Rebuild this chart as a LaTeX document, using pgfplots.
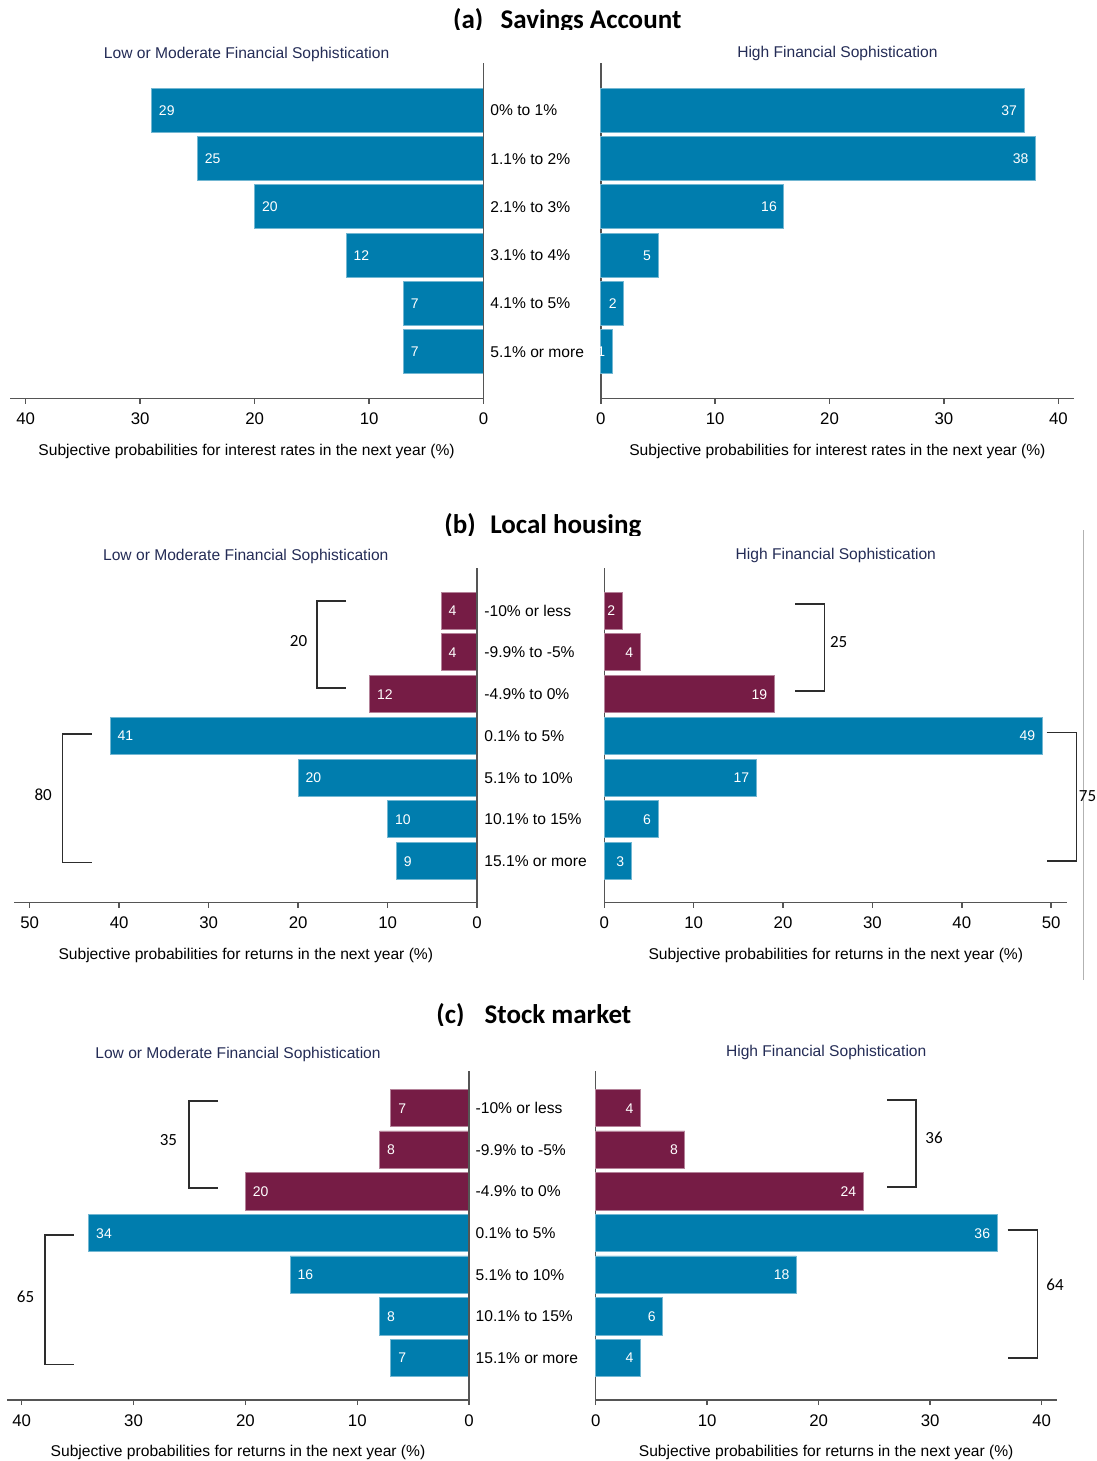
\documentclass[border=0pt]{standalone}
\usepackage{pgfplots}
\pgfplotsset{compat=1.18}
\usepackage{fontspec}
\setmainfont{Liberation Sans}
\newfontfamily\calibri{Carlito}

\definecolor{barblue}{RGB}{0,125,174}
\definecolor{barred}{RGB}{118,28,69}
\definecolor{subnavy}{RGB}{36,44,86}
\definecolor{axisgray}{RGB}{85,85,85}
\definecolor{brk}{RGB}{45,45,45}

\pgfplotsset{
  pyramid/.style={
    scale only axis, anchor=center, clip=false,
    xbar, xmin=0,
    axis x line*=bottom,
    x axis line style={axisgray, line width=0.75pt},
    tick align=outside, major tick length=2.6pt,
    xtick style={axisgray, line width=0.75pt},
    xticklabel style={font=\fontsize{8.4}{10}\selectfont, yshift=-1.2pt},
    /pgf/number format/assume math mode=true,
    nodes near coords,
    every node near coord/.append style={font=\fontsize{7}{8}\selectfont, text=white, inner sep=0pt},
    title style={font=\fontsize{7.8}{9}\selectfont, text=subnavy, at={(axis description cs:0.5,1)}, anchor=base, inner sep=0pt},
    xlabel style={font=\fontsize{7.8}{9}\selectfont, at={(axis description cs:0.5,0)}, anchor=base, inner sep=0pt, yshift=-28.3pt},
  },
  leftside/.style={
    pyramid, x dir=reverse, axis y line=none, ytick=\empty,
    every node near coord/.append style={anchor=base west, xshift=3.5pt, yshift=-2.5pt},
  },
  rightside/.style={
    pyramid, axis y line*=left,
    y axis line style={axisgray, line width=0.75pt},
    ytick style={draw=none},
    yticklabel style={font=\fontsize{7.8}{9}\selectfont, anchor=base west, inner sep=0pt, yshift=-2.8pt},
    every node near coord/.append style={anchor=base east, xshift=-3.3pt, yshift=-2.5pt},
  },
  bluebars/.style={fill=barblue, draw=barblue!55!white, line width=0.4pt, bar shift=0pt},
  redbars/.style={fill=barred, draw=barred!55!white, line width=0.4pt, bar shift=0pt},
}

\begin{document}
\begin{tikzpicture}
\useasboundingbox (0,0) rectangle (548.5pt,-730.5pt);

% ---------------- (a) Savings account ----------------
\begin{axis}[leftside, at={(123.3pt,-115.45pt)}, width=237pt, height=167.6pt,
  xmax=41.4, ymin=-0.97, ymax=5.97, bar width=0.91, xtick={0,10,...,40},
  title={Low or Moderate Financial Sophistication}, title style={yshift=-3.4pt},
  xlabel={Subjective probabilities for interest rates in the next year (\%)}]
\addplot[bluebars] coordinates {(29,5) (25,4) (20,3) (12,2) (7,1) (7,0)};
\draw[axisgray, line width=0.75pt] (axis cs:0,-0.97) -- (axis cs:0,5.97);
\end{axis}

\begin{axis}[rightside, at={(418.7pt,-115.45pt)}, width=236.6pt, height=167.6pt,
  xmax=41.37, ymin=-0.97, ymax=5.97, bar width=0.91, xtick={0,10,...,40},
  ytick={0,...,5},
  yticklabels={5.1\% or more, 4.1\% to 5\%, 3.1\% to 4\%, 2.1\% to 3\%, 1.1\% to 2\%, 0\% to 1\%},
  yticklabel style={xshift=-52.8pt},
  title={High Financial Sophistication}, title style={yshift=-3.1pt},
  xlabel={Subjective probabilities for interest rates in the next year (\%)}]
\addplot[bluebars] coordinates {(37,5) (38,4) (16,3) (5,2) (2,1) (1,0)};
\end{axis}

% ---------------- (b) Local housing ----------------
\begin{axis}[leftside, at={(122.9pt,-367.6pt)}, width=231.35pt, height=167.25pt,
  xmax=51.7, ymin=-0.99, ymax=7.02, bar width=0.886, xtick={0,10,...,50},
  title={Low or Moderate Financial Sophistication}, title style={yshift=-2.3pt},
  xlabel={Subjective probabilities for returns in the next year (\%)}]
\addplot[redbars] coordinates {(4,6) (4,5) (12,4)};
\addplot[bluebars] coordinates {(41,3) (20,2) (10,1) (9,0)};
\draw[axisgray, line width=0.75pt] (axis cs:0,-0.99) -- (axis cs:0,7.02);
\end{axis}

\begin{axis}[rightside, at={(417.9pt,-367.6pt)}, width=231.5pt, height=167.25pt,
  xmax=51.8, ymin=-0.99, ymax=7.02, bar width=0.886, xtick={0,10,...,50},
  ytick={0,...,6},
  yticklabels={15.1\% or more, 10.1\% to 15\%, 5.1\% to 10\%, 0.1\% to 5\%, -4.9\% to 0\%, -9.9\% to -5\%, -10\% or less},
  yticklabel style={xshift=-57.55pt},
  title={High Financial Sophistication}, title style={yshift=-1.8pt},
  xlabel={Subjective probabilities for returns in the next year (\%)}]
\addplot[redbars] coordinates {(2,6) (4,5) (19,4)};
\addplot[bluebars] coordinates {(49,3) (17,2) (6,1) (3,0)};
\end{axis}

% ---------------- (c) Stock market ----------------
\begin{axis}[leftside, at={(119.0pt,-617.75pt)}, width=231.15pt, height=164.5pt,
  xmax=41.33, ymin=-1.01, ymax=6.89, bar width=0.9, xtick={0,10,...,40},
  title={Low or Moderate Financial Sophistication}, title style={yshift=0.2pt},
  xlabel={Subjective probabilities for returns in the next year (\%)}]
\addplot[redbars] coordinates {(7,6) (8,5) (20,4)};
\addplot[bluebars] coordinates {(34,3) (16,2) (8,1) (7,0)};
\draw[axisgray, line width=0.75pt] (axis cs:0,-1.01) -- (axis cs:0,6.89);
\end{axis}

\begin{axis}[rightside, at={(413.1pt,-617.75pt)}, width=230.5pt, height=164.5pt,
  xmax=41.35, ymin=-1.01, ymax=6.89, bar width=0.9, xtick={0,10,...,40},
  ytick={0,...,6},
  yticklabels={15.1\% or more, 10.1\% to 15\%, 5.1\% to 10\%, 0.1\% to 5\%, -4.9\% to 0\%, -9.9\% to -5\%, -10\% or less},
  yticklabel style={xshift=-57.6pt},
  title={High Financial Sophistication}, title style={yshift=1.2pt},
  xlabel={Subjective probabilities for returns in the next year (\%)}]
\addplot[redbars] coordinates {(4,6) (8,5) (24,4)};
\addplot[bluebars] coordinates {(36,3) (18,2) (6,1) (4,0)};
\end{axis}

% ---------------- panel titles, brackets and group totals ----------------
\begin{scope}[x=0.5pt, y=-0.5pt]
  \begin{scope}
    \clip (400,0) rectangle (720,30);
    \node[anchor=base west, inner sep=0pt, font=\calibri\bfseries\fontsize{13.5}{16}\selectfont] at (452.7,28.3) {(a)};
    \node[anchor=base west, inner sep=0pt, font=\calibri\bfseries\fontsize{13.5}{16}\selectfont] at (500.2,28.3) {Savings Account};
  \end{scope}
  \begin{scope}
    \clip (400,500) rectangle (720,535.5);
    \node[anchor=base west, inner sep=0pt, font=\calibri\bfseries\fontsize{13.5}{16}\selectfont] at (444,533) {(b)};
    \node[anchor=base west, inner sep=0pt, font=\calibri\bfseries\fontsize{13.5}{16}\selectfont] at (490,533) {Local housing};
  \end{scope}
  \begin{scope}
    \clip (400,990) rectangle (720,1025.5);
    \node[anchor=base west, inner sep=0pt, font=\calibri\bfseries\fontsize{13.5}{16}\selectfont] at (436,1023.3) {(c)};
    \node[anchor=base west, inner sep=0pt, font=\calibri\bfseries\fontsize{13.5}{16}\selectfont] at (484.3,1023.3) {Stock market};
  \end{scope}

  \begin{scope}[brk, line width=0.8pt]
    \draw (346,600.7) -- (316.9,600.7) -- (316.9,687.7) -- (346,687.7);
    \draw (91.8,733.7) -- (62.4,733.7) -- (62.4,862.3) -- (91.8,862.3);
    \draw (795,604) -- (824.3,604) -- (824.3,690.7) -- (795,690.7);
    \draw (1046.7,732.3) -- (1076.3,732.3) -- (1076.3,861) -- (1046.7,861);
    \draw (218.1,1100.7) -- (188.7,1100.7) -- (188.7,1187.7) -- (218.1,1187.7);
    \draw (73.5,1235) -- (44.8,1235) -- (44.8,1364.3) -- (73.5,1364.3);
    \draw (887,1100) -- (916,1100) -- (916,1186.7) -- (887,1186.7);
    \draw (1007.7,1229.7) -- (1037.3,1229.7) -- (1037.3,1358) -- (1007.7,1358);
  \end{scope}
  \draw[black!30, line width=0.5pt] (1083.3,530) -- (1083.3,980);
  \begin{scope}[every node/.style={font=\calibri\fontsize{8.5}{10}\selectfont, inner sep=0pt, text=black}]
    \node at (298.5,641) {20};
    \node at (43.2,795) {80};
    \node at (838.7,641.7) {25};
    \node[anchor=east] at (1096.5,796) {75};
    \node at (168.4,1140) {35};
    \node at (25.6,1297) {65};
    \node at (934,1137.7) {36};
    \node at (1055,1285) {64};
  \end{scope}
\end{scope}
\end{tikzpicture}
\end{document}
